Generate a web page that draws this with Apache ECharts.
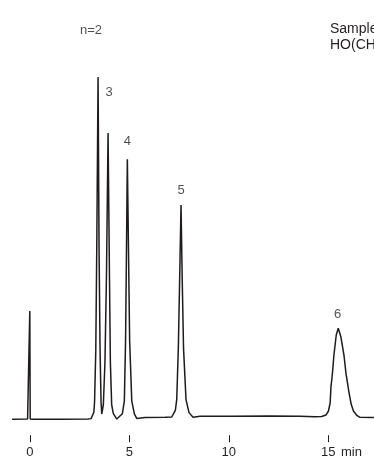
<!DOCTYPE html>
<html>
<head>
<meta charset="utf-8">
<script src="https://cdn.jsdelivr.net/npm/echarts@6/dist/echarts.min.js"></script>
<style>
  html, body { margin: 0; padding: 0; background: #ffffff; }
  #chart { width: 374px; height: 457px; }
</style>
</head>
<body>
<div id="chart"></div>
<script>
// Chromatogram trace: [retention time (min), detector signal]
const trace = [
  [-0.894, -0.05], [-0.116, 0], [-0.050, -0.22], [-0.025, 0], [-0.005, 30.08],
  [0.015, 0], [0.055, -0.22], [0.136, -0.06], [1.518, -0.06], [2.925, 0],
  [3.075, 0.11], [3.216, 1.89], [3.251, 4.76], [3.312, 19.05], [3.362, 47.63],
  [3.427, 95.26], [3.477, 47.63], [3.528, 19.05], [3.578, 4.76], [3.613, 1.39],
  [3.693, 3.98], [3.774, 15.93], [3.849, 39.83], [3.930, 79.67], [4.000, 39.83],
  [4.045, 15.93], [4.111, 3.98], [4.191, 1.59], [4.367, 0], [4.648, 1.45],
  [4.749, 5.06], [4.809, 21.70], [4.849, 43.40], [4.899, 72.34], [4.965, 43.40],
  [5.015, 21.70], [5.121, 5.06], [5.251, 1.45], [5.372, 0.17], [5.789, 0.39],
  [6.794, 0.50], [7.131, 0.56], [7.312, 2.40], [7.382, 5.38], [7.462, 19.67],
  [7.528, 38.75], [7.598, 59.61], [7.658, 38.75], [7.724, 19.67], [7.849, 5.38],
  [8.000, 1.78], [8.201, 0.47], [8.553, 0.75], [10.060, 0.78], [12.070, 0.84],
  [13.578, 0.75], [14.332, 0.61], [14.668, 0.70], [14.884, 1.11], [15.010, 2.23],
  [15.095, 4.46], [15.136, 8.91], [15.211, 12.81], [15.286, 17.83], [15.402, 23.40],
  [15.503, 25.26], [15.638, 22.84], [15.789, 17.83], [15.889, 12.81], [16.040, 7.52],
  [16.151, 4.18], [16.266, 2.23], [16.417, 1.11], [16.593, 0.47], [17.296, 0.42]
];

// Peak annotations
const peakNames = ['n=2', '3', '4', '5', '6'];
const peakTimes = [3.427, 3.930, 4.899, 7.598, 15.503];
const peakHeights = [95.26, 79.67, 72.34, 59.61, 25.26];

// Time axis ticks
const tickValues = [0, 5, 10, 15];
const axisUnit = 'min';

// Sample description lines
const sampleLines = ['Sample:', 'HO(CH\u2082)\u2099OH'];

const ink = '#1f1b1c';
const textInk = '#231f20';
const fontFamily = '"Liberation Sans", Arial, Helvetica, sans-serif';

// Label placement relative to each peak apex (px)
const labelOffsets = [[-7, -47], [1, -40.5], [0, -17.6], [0, -14.3], [-0.6, -14.3]];

const chart = echarts.init(document.getElementById('chart'), null, { renderer: 'canvas' });

chart.setOption({
  animation: false,
  backgroundColor: '#ffffff',
  grid: {
    left: 12, right: 0, top: 60, bottom: 30.8,
    containLabel: false,
    outerBoundsMode: 'none'
  },
  xAxis: {
    type: 'value',
    min: -0.9,
    max: 17.3,
    offset: 9,
    axisLine: { show: false, onZero: false },
    axisTick: {
      show: true,
      customValues: tickValues,
      length: 7,
      lineStyle: { color: ink, width: 1 }
    },
    axisLabel: {
      customValues: tickValues,
      margin: 11,
      fontSize: 13,
      fontFamily: fontFamily,
      color: textInk
    },
    splitLine: { show: false }
  },
  yAxis: {
    type: 'value',
    min: -2,
    max: 100,
    show: false,
    axisLine: { onZero: false },
    splitLine: { show: false }
  },
  series: [
    {
      type: 'line',
      data: trace,
      showSymbol: false,
      symbol: 'none',
      clip: false,
      lineStyle: { color: ink, width: 1.5 },
      z: 2
    },
    {
      type: 'scatter',
      symbolSize: 0,
      silent: true,
      data: peakTimes.map((t, i) => ({
        value: [t, peakHeights[i]],
        label: {
          show: true,
          position: 'inside',
          formatter: peakNames[i],
          offset: labelOffsets[i]
        }
      })),
      label: {
        fontSize: 13,
        fontFamily: fontFamily,
        color: textInk
      },
      z: 3
    }
  ],
  graphic: [
    {
      type: 'text',
      left: 341,
      top: 446,
      style: { text: axisUnit, font: '13px ' + fontFamily, fill: textInk }
    },
    {
      type: 'text',
      left: 330,
      top: 22,
      style: { text: sampleLines[0], font: '14px ' + fontFamily, fill: textInk }
    },
    {
      type: 'text',
      left: 330,
      top: 38.5,
      style: { text: sampleLines[1], font: '14px ' + fontFamily, fill: textInk }
    }
  ]
});
</script>
</body>
</html>
